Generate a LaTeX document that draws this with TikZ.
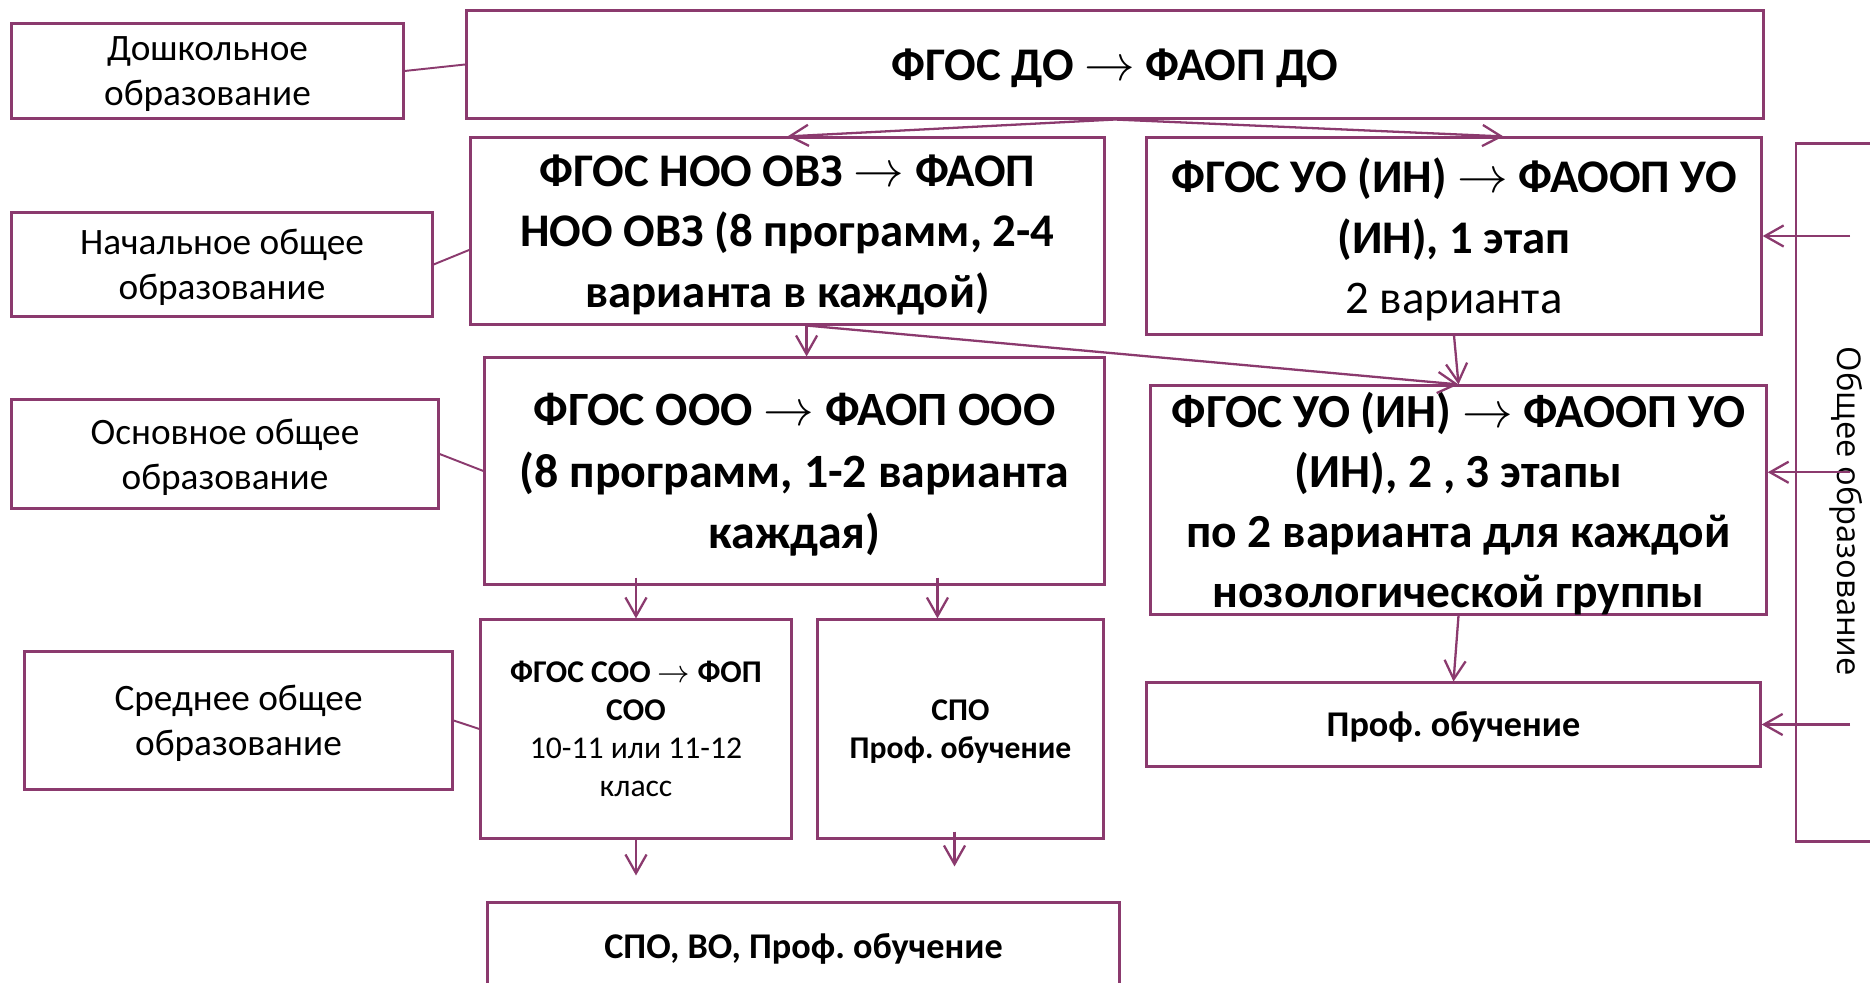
\documentclass[tikz,border=0pt]{standalone}
\usepackage{fontspec}
\setmainfont{Carlito}
\newfontfamily\opensans{Open Sans}
\usepackage{tikz}
\usetikzlibrary{calc}
\usetikzlibrary{math}
\usetikzlibrary{arrows.meta}
\definecolor{prune}{RGB}{139,58,110}
\frenchspacing

\begin{document}
\begin{tikzpicture}[x=0.01cm, y=-0.01cm,
        boite/.style={draw=prune, line width=0.85pt, fill=white, align=center, inner sep=1pt, text depth=0pt},
        lien/.style={draw=prune, line width=0.55pt},
        fleche/.style={draw=prune, line width=0.65pt, -{Straight Barb[length=5.3pt, width=6pt]}},
        grand/.style={font=\fontsize{13.3}{17.2}\selectfont\bfseries},
        moyen/.style={font=\fontsize{10.6}{12.7}\selectfont},
        petit/.style={font=\fontsize{9}{10.8}\selectfont\bfseries},
        bas/.style={font=\fontsize{10.3}{12}\selectfont\bfseries}]
            \tikzmath{\ecart = 8;}
            \fill[white] (0,0) rectangle (1870,983);
            \useasboundingbox (0,0) rectangle (1870,983);
            \clip (0,0) rectangle (1870,983);

            \node[boite, moyen, minimum width=3.91cm, minimum height=0.94cm] (DOlab) at (207.5,71) {Дошкольное\\образование};
            \node[boite, moyen, minimum width=4.20cm, minimum height=1.03cm] (NOlab) at (222,264.5) {Начальное общее\\образование};
            \node[boite, moyen, minimum width=4.26cm, minimum height=1.08cm] (OOlab) at (225,454) {Основное общее\\образование};
            \node[boite, moyen, minimum width=4.27cm, minimum height=1.37cm] (SOlab) at (238.5,720.5) {Среднее общее\\образование};

            \node[boite, grand, minimum width=12.96cm, minimum height=1.07cm] (DO) at (1115,64.5) {ФГОС ДО $\rightarrow$ ФАОП ДО};
            \node[boite, grand, minimum width=6.33cm, minimum height=1.86cm] (NOO) at (787.5,231) {ФГОС НОО ОВЗ $\rightarrow$ ФАОП\\НОО ОВЗ (8 программ, 2-4\\варианта в каждой)};
            \node[boite, grand, minimum width=6.14cm, minimum height=1.96cm] (UO1) at (1454,236) {ФГОС УО (ИН) $\rightarrow$ ФАООП УО\\(ИН), 1 этап\\{\mdseries 2 варианта}};
            \node[boite, grand, font=\fontsize{13.6}{17.4}\selectfont\bfseries, minimum width=6.19cm, minimum height=2.26cm] (OOO) at (794.5,471) {ФГОС ООО $\rightarrow$ ФАОП ООО\\(8 программ, 1-2 варианта\\каждая)};
            \node[boite, grand, font=\fontsize{13.5}{17}\selectfont\bfseries, minimum width=6.15cm, minimum height=2.28cm] (UO2) at (1458.5,500) {ФГОС УО (ИН) $\rightarrow$ ФАООП УО\\(ИН), 2 , 3 этапы\\по 2 варианта для каждой\\нозологической группы};
            \node[boite, petit, minimum width=3.10cm, minimum height=2.18cm] (SOO) at (636,729) {ФГОС СОО $\rightarrow$ ФОП\\СОО\\{\mdseries 10-11 или 11-12}\\{\mdseries класс}};
            \node[boite, petit, minimum width=2.85cm, minimum height=2.18cm] (SPO) at (960.5,729) {СПО\\Проф. обучение};
            \node[boite, bas, minimum width=6.13cm, minimum height=0.83cm] (PROF) at (1453.5,724.5) {Проф. обучение};
            \node[boite, bas, minimum width=6.31cm, minimum height=0.87cm] (BAS) at (803.5,946.5) {СПО, ВО, Проф. обучение};
            \node[boite, font=\opensans\fontsize{9.3}{11}\selectfont, rotate=-90, minimum width=6.97cm, minimum height=1.08cm] (OBSH) at (1850,492.5) {\hspace*{0.38cm}Общее образование};

            \coordinate (NOOg) at ($(NOO.north west)!0.6!(NOO.south west)$);
            \foreach \a/\b in {DOlab/DO.west, NOlab/NOOg, OOlab/OOO.west, SOlab/SOO.west} {
                \draw[lien] (\a.east) -- (\b);
            }

            \coordinate (n1) at ($(NOO.south west)!0.53!(NOO.south east)$);
            \coordinate (s1) at ($(SPO.north west)!0.42!(SPO.north east)$);
            \coordinate (u2) at ($(UO2.north east)!0.38!(UO2.south east)$);

            \draw[fleche] (DO.south) -- (NOO.north);
            \draw[fleche] (DO.south) -- ($(UO1.north west)!0.58!(UO1.north east)$);
            \draw[fleche] (n1) -- (n1 |- OOO.north);
            \draw[fleche] (n1) -- (UO2.north);
            \draw[fleche] (UO1.south) -- (UO2.north);
            \draw[fleche] ($(OOO.south -| SOO.north)+(0,-\ecart)$) -- (SOO.north);
            \draw[fleche] ($(OOO.south -| s1)+(0,-\ecart)$) -- (s1);
            \draw[fleche, shorten >=0.26cm] (SOO.south) -- (SOO.south |- BAS.north);
            \draw[fleche, shorten >=0.35cm] ($(SPO.south)+(-6,-\ecart)$) -- ($(SPO.south |- BAS.north)+(-6,0)$);
            \draw[fleche] (UO2.south) -- (PROF.north);
            \foreach \c in {UO1.east, u2, PROF.east} {
                \draw[fleche] (OBSH.west |- \c) -- (\c);
            }
        \end{tikzpicture}
\end{document}
